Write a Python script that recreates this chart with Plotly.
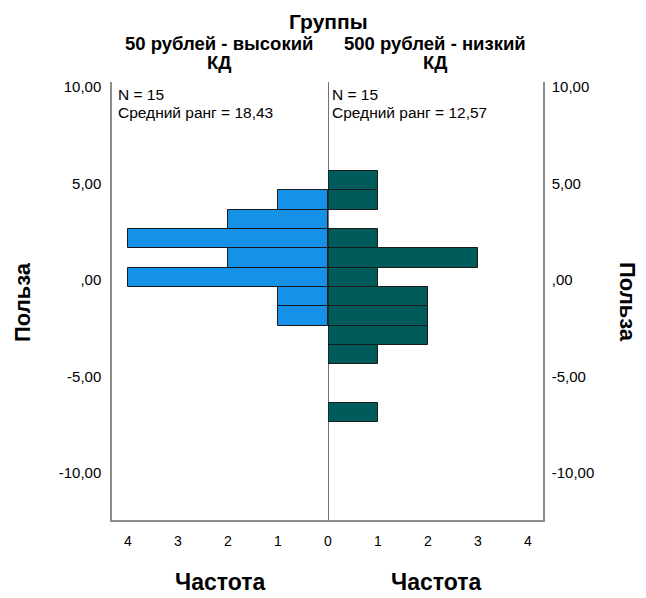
import plotly.graph_objects as go

# Bin midpoints of "Польза" (value axis)
bins_left = [4.15, 3.15, 2.15, 1.15, 0.15, -0.85, -1.85]
counts_left = [1, 2, 4, 2, 4, 1, 1]

bins_right = [5.15, 4.15, 2.15, 1.15, 0.15, -0.85, -1.85, -2.85, -3.85, -6.85]
counts_right = [1, 1, 1, 3, 1, 2, 2, 2, 1, 1]

y_ticks = [10, 5, 0, -5, -10]
y_tick_labels = ["10,00", "5,00", ",00", "-5,00", "-10,00"]
x_ticks_left = [1, 2, 3, 4]
x_ticks_right = [0, 1, 2, 3, 4]

group_left = ["50 рублей - высокий", "КД"]
group_right = ["500 рублей - низкий", "КД"]
stats_left = ["N = 15", "Средний ранг = 18,43"]
stats_right = ["N = 15", "Средний ранг = 12,57"]

FONT = "Liberation Sans, Arial, sans-serif"
BLUE = "#1591E8"
TEAL = "#005C5A"

fig = go.Figure()
fig.add_trace(go.Bar(y=bins_left, x=counts_left, orientation="h", width=1,
                     marker=dict(color=BLUE, line=dict(color="#1a1a1a", width=1)),
                     xaxis="x", yaxis="y", showlegend=False))
fig.add_trace(go.Bar(y=bins_right, x=counts_right, orientation="h", width=1,
                     marker=dict(color=TEAL, line=dict(color="#1a1a1a", width=1)),
                     xaxis="x2", yaxis="y2", showlegend=False))

OFF = 8  # page body margin
W, H = 646 - OFF, 598 - OFF
L = 112 - OFF
T = 82 - OFF
R = W - (543 - OFF)
B = H - (520 - OFF)
pw = W - L - R
ph = H - T - B
split = (328 - 112) / pw

def px(xp):
    return (xp - OFF - L) / pw

def py(yp):
    return (H - B - (yp - OFF)) / ph

yr = [-12.43, 10.27]
axis_gray = "#8c8c8c"
fig.update_layout(
    width=W, height=H,
    margin=dict(l=L, r=R, t=T, b=B),
    paper_bgcolor="white", plot_bgcolor="white",
    font=dict(family=FONT, color="#000"),
    bargap=0,
    xaxis=dict(domain=[0, split], range=[4.32, 0], tickvals=x_ticks_left,
               ticktext=[str(v) for v in x_ticks_left], showgrid=False, zeroline=False,
               showline=True, linecolor=axis_gray, linewidth=1.5, anchor="y",
               ticks="outside", ticklen=7, tickcolor="rgba(0,0,0,0)",
               tickfont=dict(size=14)),
    xaxis2=dict(domain=[split, 1], range=[0, 4.3], tickvals=x_ticks_right,
                ticktext=[str(v) for v in x_ticks_right], showgrid=False, zeroline=False,
                showline=True, linecolor=axis_gray, linewidth=1.5, anchor="y2",
                ticks="outside", ticklen=7, tickcolor="rgba(0,0,0,0)",
                tickfont=dict(size=14)),
    yaxis=dict(range=yr, tickvals=y_ticks, ticktext=y_tick_labels, showgrid=False,
               zeroline=False, showline=True, linecolor=axis_gray, linewidth=1.5,
               anchor="x", side="left", ticks="outside", ticklen=6,
               tickcolor="rgba(0,0,0,0)", tickfont=dict(size=15)),
    yaxis2=dict(range=yr, matches="y", tickvals=y_ticks, ticktext=y_tick_labels,
                showgrid=False, zeroline=False, showline=True, linecolor=axis_gray,
                linewidth=1.5, anchor="x2", side="right", ticks="outside", ticklen=4,
                tickcolor="rgba(0,0,0,0)", tickfont=dict(size=15)),
)

# center line
fig.add_shape(type="line", xref="x2", yref="paper", x0=0, x1=0, y0=0, y1=1,
              line=dict(color="#111", width=1.2), layer="above")

ann = []
ann.append(dict(text="<b>Группы</b>", x=px(328), y=py(8), font=dict(size=21),
                yanchor="top"))
ann.append(dict(text="<b>" + group_left[0] + "</b>", x=px(219), y=py(44), font=dict(size=18.5)))
ann.append(dict(text="<b>" + group_left[1] + "</b>", x=px(219), y=py(63), font=dict(size=18.5)))
ann.append(dict(text="<b>" + group_right[0] + "</b>", x=px(435), y=py(44), font=dict(size=18.5)))
ann.append(dict(text="<b>" + group_right[1] + "</b>", x=px(435), y=py(63), font=dict(size=18.5)))
ann.append(dict(text="<b>Частота</b>", x=px(220), y=py(582), font=dict(size=23)))
ann.append(dict(text="<b>Частота</b>", x=px(436), y=py(582), font=dict(size=23)))
ann.append(dict(text="<b>Польза</b>", x=px(22), y=py(302), font=dict(size=22), textangle=-90))
ann.append(dict(text="<b>Польза</b>", x=px(628), y=py(302), font=dict(size=22), textangle=90))
for a in ann:
    a.setdefault("yanchor", "middle")
    a.update(xref="paper", yref="paper", showarrow=False, xanchor="center")

for xs, lines in ((116, stats_left), (330, stats_right)):
    for yl, t in zip((95, 112), lines):
        ann.append(dict(text=t, x=px(xs), y=py(yl), xref="paper", yref="paper",
                        showarrow=False, xanchor="left", yanchor="middle", align="left",
                        font=dict(size=15.5)))
fig.update_layout(annotations=ann)

fig.write_html("out.html")
